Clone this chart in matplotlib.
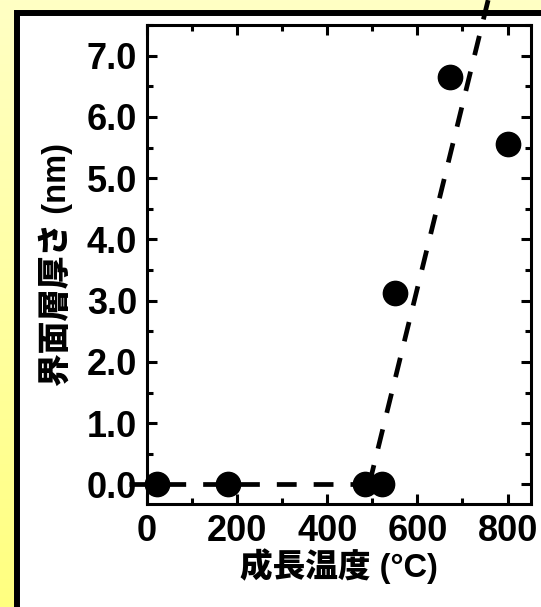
import matplotlib.pyplot as plt
from matplotlib.patches import Rectangle
from matplotlib.colors import LinearSegmentedColormap
from matplotlib.ticker import MultipleLocator, FormatStrFormatter
import numpy as np

# data
temp = [22, 180, 484, 522, 551, 673, 802]
thick = [0.0, 0.0, 0.0, 0.0, 3.12, 6.65, 5.55]

# guide lines (flat part and rising part)
flat_x = [-40, 493]
flat_y = [0.0, 0.0]
rise_x = [493, 760]
rise_y = [0.0, 8.0]

xticks = [0, 200, 400, 600, 800]
yticks = [0, 1, 2, 3, 4, 5, 6, 7]

plt.rcParams['font.family'] = ['Liberation Sans', 'Noto Sans CJK JP']
plt.rcParams['font.weight'] = 'bold'

W, H = 541.0, 607.0
fig = plt.figure(figsize=(W / 100, H / 100), dpi=100)

# yellow slide background, lighter at top
bg = fig.add_axes([0, 0, 1, 1], zorder=-20)
cmap = LinearSegmentedColormap.from_list('yel', ['#FFFF80', '#FFFFC4'])
bg.imshow(np.linspace(0, 1, 256).reshape(-1, 1), cmap=cmap, aspect='auto',
          origin='lower', extent=[0, 1, 0, 1])
bg.set_axis_off()

# white panel with thick black frame, running off right/bottom edges
panel = Rectangle((17 / W, -0.05), 1.2, (H - 13) / H + 0.05,
                  transform=fig.transFigure, facecolor='white',
                  edgecolor='black', linewidth=4.3, zorder=-10)
fig.patches.append(panel)

ax = fig.add_axes([147 / W, 103 / H, 384 / W, 479 / H])
ax.set_facecolor('white')

dash = (0, (4.2, 3.6))
ax.plot(flat_x, flat_y, color='black', lw=3.4, linestyle=dash, clip_on=False, zorder=3)
ax.plot(rise_x, rise_y, color='black', lw=3.4, linestyle=dash, clip_on=False, zorder=3)
ax.plot(temp, thick, 'o', color='black', markersize=17.5, clip_on=False, zorder=4)

ax.set_xlim(0, 852)
ax.set_ylim(-0.32, 7.5)

ax.set_xticks(xticks)
ax.set_yticks(yticks)
ax.xaxis.set_minor_locator(MultipleLocator(100))
ax.yaxis.set_minor_locator(MultipleLocator(0.5))
ax.yaxis.set_major_formatter(FormatStrFormatter('%.1f'))

ax.tick_params(which='both', direction='in', top=True, right=True,
               width=2.2, labelsize=26)
ax.tick_params(which='major', length=7)
ax.tick_params(which='minor', length=4.5)
ax.tick_params(axis='y', pad=7)
ax.tick_params(axis='x', pad=7)
for lab in ax.get_xticklabels() + ax.get_yticklabels():
    lab.set_fontweight('bold')
for s in ax.spines.values():
    s.set_linewidth(2.2)

ax.set_xlabel('成長温度 (°C)', fontsize=23.5, fontweight='heavy', labelpad=0)
ax.set_ylabel('界面層厚さ (nm)', fontsize=23.5, fontweight='heavy', labelpad=10)

fig.savefig('out.png', dpi=100)
